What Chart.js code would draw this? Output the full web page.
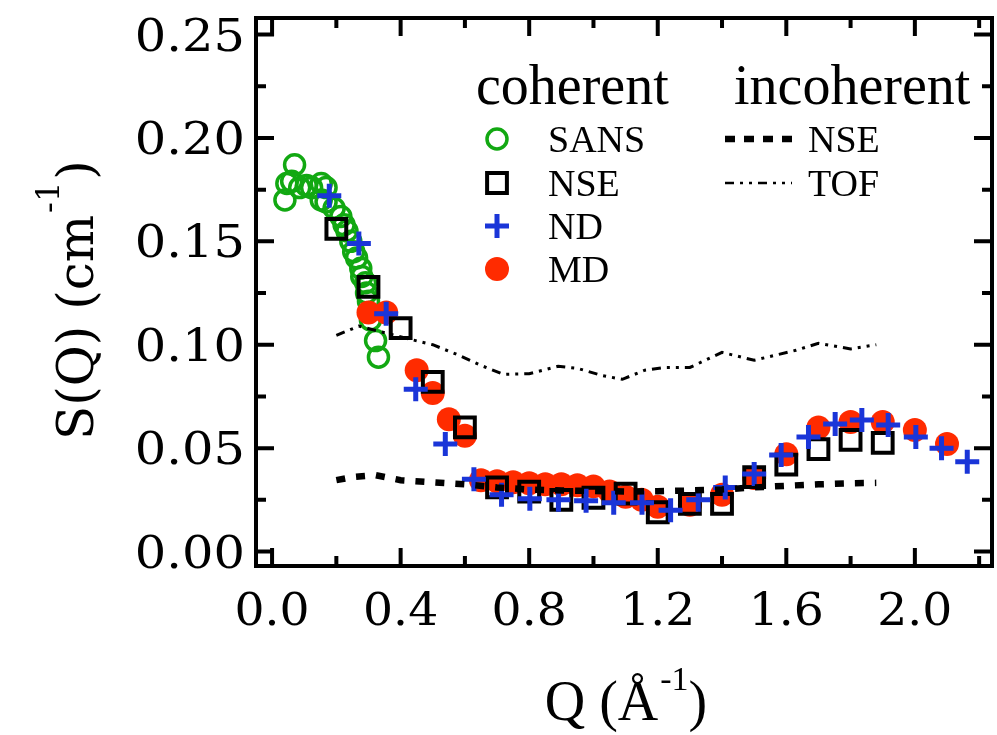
<!DOCTYPE html>
<html>
<head>
<meta charset="utf-8">
<script src="https://cdn.jsdelivr.net/npm/chart.js@4/dist/chart.umd.min.js"></script>
<style>
  html, body { margin: 0; padding: 0; background: #fff; overflow: hidden; }
  #wrap { width: 1010px; height: 735px; position: relative; }
</style>
</head>
<body>
<div id="wrap"><canvas id="sq"></canvas></div>
<script>
// coherent S(Q): SANS
const sansQ = [0.040, 0.046, 0.061, 0.070, 0.086, 0.107, 0.123, 0.153, 0.153, 0.168, 0.168, 0.193, 0.214, 0.224,
  0.233, 0.245, 0.254, 0.263, 0.276, 0.279, 0.291, 0.294, 0.300, 0.306, 0.322, 0.331];
const sansS = [0.170, 0.178, 0.179, 0.187, 0.176, 0.177, 0.176, 0.178, 0.170, 0.176, 0.169, 0.166, 0.162, 0.158,
  0.155, 0.150, 0.145, 0.142, 0.137, 0.133, 0.130, 0.125, 0.121, 0.112, 0.102, 0.094];

// coherent S(Q): NSE
const nseQ = [0.2, 0.3, 0.4, 0.5, 0.6, 0.7, 0.8, 0.9, 1.0, 1.1, 1.2, 1.3, 1.4, 1.5, 1.6, 1.7, 1.8, 1.9];
const nseS = [0.156, 0.128, 0.108, 0.082, 0.060, 0.031, 0.029, 0.025, 0.026, 0.028, 0.019, 0.023, 0.023,
  0.036, 0.042, 0.0495, 0.054, 0.0525];

// coherent S(Q): ND
const ndQ = [0.178, 0.270, 0.355, 0.447, 0.539, 0.628, 0.714, 0.802, 0.891, 0.977, 1.063, 1.151, 1.240, 1.326,
  1.410, 1.500, 1.584, 1.669, 1.752, 1.835, 1.917, 2.003, 2.083, 2.163];
const ndS = [0.172, 0.149, 0.115, 0.0785, 0.052, 0.035, 0.0275, 0.0255, 0.025, 0.0246, 0.0236, 0.0236, 0.020,
  0.025, 0.031, 0.0375, 0.0467, 0.0554, 0.0617, 0.0636, 0.0612, 0.0554, 0.050, 0.0434];

// coherent S(Q): MD
const mdQ = [0.30, 0.355, 0.45, 0.50, 0.55, 0.60, 0.65, 0.70, 0.75, 0.80, 0.85, 0.90, 0.95, 1.00, 1.05, 1.10,
  1.15, 1.20, 1.30, 1.40, 1.50, 1.60, 1.70, 1.80, 1.90, 2.00, 2.10];
const mdS = [0.1156, 0.1156, 0.0877, 0.0766, 0.064, 0.056, 0.0345, 0.034, 0.0335, 0.033, 0.0325, 0.0325, 0.032,
  0.0315, 0.029, 0.0265, 0.025, 0.0217, 0.0226, 0.0275, 0.0356, 0.047, 0.060, 0.0626, 0.0626, 0.0588, 0.052];

// incoherent S(Q): NSE and TOF
const incNseQ = [0.20, 0.25, 0.32, 0.40, 0.50, 0.60, 0.70, 0.80, 0.90, 1.00, 1.10, 1.20, 1.30, 1.40, 1.50,
  1.60, 1.70, 1.80, 1.88];
const incNseS = [0.0345, 0.036, 0.037, 0.0345, 0.0335, 0.0325, 0.031, 0.030, 0.0295, 0.0293, 0.029, 0.0292,
  0.0295, 0.030, 0.031, 0.0318, 0.0325, 0.033, 0.0332];
const tofQ = [0.20, 0.27, 0.42, 0.50, 0.58, 0.65, 0.72, 0.80, 0.89, 0.95, 1.03, 1.09, 1.16, 1.22, 1.30, 1.40,
  1.50, 1.63, 1.70, 1.80, 1.88];
const tofS = [0.1045, 0.109, 0.103, 0.100, 0.095, 0.090, 0.0857, 0.086, 0.0896, 0.0886, 0.085, 0.0833, 0.0877,
  0.089, 0.089, 0.0963, 0.0925, 0.0973, 0.1007, 0.098, 0.100];

const xTickLabels = ["0.0", "0.4", "0.8", "1.2", "1.6", "2.0"];
const yTickLabels = ["0.00", "0.05", "0.10", "0.15", "0.20", "0.25"];

const green = "#12a812";
const blue = "#1a35d8";
const red = "#ff2b00";
const serif = '"Liberation Serif", "Times New Roman", serif';
const tickFont = '"DejaVu Serif", serif';

const pairs = (qs, ss) => qs.map((q, i) => ({ x: q, y: ss[i] }));

const markers = {
  sans: { pointStyle: "circle", radius: 10, borderWidth: 3.5, color: green, fill: "rgba(0,0,0,0)" },
  nse: { pointStyle: "rect", radius: 14, borderWidth: 4, color: "#000", fill: "rgba(0,0,0,0)" },
  nd: { pointStyle: "cross", radius: 12, borderWidth: 5, color: blue, fill: "rgba(0,0,0,0)" },
  md: { pointStyle: "circle", radius: 12, borderWidth: 0, color: red, fill: red },
};

const pointSet = (label, data, m) => ({
  label,
  data,
  showLine: false,
  pointStyle: m.pointStyle,
  pointRadius: m.radius,
  pointBorderWidth: m.borderWidth,
  pointBorderColor: m.color,
  pointBackgroundColor: m.fill,
});

const lineSet = (label, data, width, dash) => ({
  label,
  data,
  showLine: true,
  borderColor: "#000",
  borderWidth: width,
  borderDash: dash,
  pointRadius: 0,
  tension: 0,
});

const nseDash = [9, 11];
const tofDash = [9, 6, 3, 6, 3, 6];

// draws text, optionally stretched horizontally about its anchor
const drawText = (ctx, text, x, y, font, align, stretch) => {
  const sx = stretch || 1;
  ctx.save();
  ctx.font = font;
  ctx.textAlign = align || "left";
  ctx.textBaseline = "alphabetic";
  ctx.translate(x, y);
  ctx.scale(sx, 1);
  ctx.fillText(text, 0, 0);
  ctx.restore();
  ctx.font = font;
  return ctx.measureText(text).width * sx;
};

const framePlugin = {
  id: "frame",
  afterDatasetsDraw(chart) {
    const { ctx, chartArea: a, scales } = chart;
    const xs = scales.x;
    const ys = scales.y;
    ctx.save();
    ctx.fillStyle = "#000";
    ctx.strokeStyle = "#000";
    ctx.setLineDash([]);

    // inward ticks on all four sides
    ctx.lineWidth = 4;
    ctx.lineCap = "butt";
    ctx.beginPath();
    for (let i = 0; i <= 11; i++) {
      const px = xs.getPixelForValue(i * 0.2);
      const len = i % 2 === 0 ? 18 : 10;
      ctx.moveTo(px, a.bottom); ctx.lineTo(px, a.bottom - len);
      ctx.moveTo(px, a.top); ctx.lineTo(px, a.top + len);
    }
    for (let i = 0; i <= 10; i++) {
      const py = ys.getPixelForValue(i * 0.025);
      const len = i % 2 === 0 ? 18 : 10;
      ctx.moveTo(a.left, py); ctx.lineTo(a.left + len, py);
      ctx.moveTo(a.right, py); ctx.lineTo(a.right - len, py);
    }
    ctx.stroke();
    ctx.strokeRect(a.left, a.top, a.right - a.left, a.bottom - a.top);

    // tick labels
    yTickLabels.forEach((t) => {
      const py = ys.getPixelForValue(parseFloat(t));
      drawText(ctx, t, a.left - 11, py + 16, `45px ${tickFont}`, "right", 1.1);
    });
    xTickLabels.forEach((t) => {
      const px = xs.getPixelForValue(parseFloat(t));
      drawText(ctx, t, px, 625, `45px ${tickFont}`, "center", 1.05);
    });

    // x title: Q (Å^-1)
    ctx.font = `56px ${serif}`;
    const wMain = ctx.measureText("Q (Å").width;
    const wClose = ctx.measureText(")").width;
    ctx.font = `34px ${serif}`;
    const wSup = ctx.measureText("-1").width;
    let xt = 625 - (wMain + wSup + wClose) / 2;
    xt += drawText(ctx, "Q (Å", xt, 720, `56px ${serif}`);
    xt += drawText(ctx, "-1", xt + 2, 690, `34px ${serif}`) + 2;
    drawText(ctx, ")", xt, 720, `56px ${serif}`);

    // y title: S(Q) (cm^-1)
    ctx.save();
    ctx.translate(93, 440);
    ctx.rotate(-Math.PI / 2);
    let yt = drawText(ctx, "S(Q) (cm", 0, 0, `50px ${tickFont}`);
    yt += drawText(ctx, "-1", yt + 2, -34, `32px ${tickFont}`) + 4;
    drawText(ctx, ")", yt, 0, `50px ${tickFont}`);
    ctx.restore();

    // legend
    drawText(ctx, "coherent", 476, 104, `56px ${serif}`);
    drawText(ctx, "incoherent", 734, 104, `56px ${serif}`);
    const rows = [
      ["SANS", markers.sans, 139],
      ["NSE", markers.nse, 183],
      ["ND", markers.nd, 226],
      ["MD", markers.md, 269],
    ];
    rows.forEach(([label, m, y]) => {
      ctx.save();
      ctx.fillStyle = m.fill;
      ctx.strokeStyle = m.color;
      ctx.lineWidth = m.borderWidth;
      Chart.helpers.drawPoint(ctx, { pointStyle: m.pointStyle, radius: m.radius, rotation: 0, borderWidth: m.borderWidth }, 497, y);
      ctx.restore();
      drawText(ctx, label, 548, y + 13, `38px ${serif}`);
    });

    const legendLine = (y, width, dash) => {
      ctx.save();
      ctx.lineWidth = width;
      ctx.setLineDash(dash);
      ctx.beginPath();
      ctx.moveTo(725, y);
      ctx.lineTo(792, y);
      ctx.stroke();
      ctx.restore();
    };
    legendLine(139, 6.5, [10, 9]);
    drawText(ctx, "NSE", 808, 152, `38px ${serif}`);
    legendLine(183, 2.5, tofDash);
    drawText(ctx, "TOF", 808, 196, `38px ${serif}`);

    ctx.restore();
  },
};

new Chart(document.getElementById("sq"), {
  type: "scatter",
  data: {
    datasets: [
      lineSet("TOF", pairs(tofQ, tofS), 3, tofDash),
      lineSet("NSE incoherent", pairs(incNseQ, incNseS), 6.5, nseDash),
      pointSet("ND", pairs(ndQ, ndS), markers.nd),
      pointSet("NSE", pairs(nseQ, nseS), markers.nse),
      pointSet("MD", pairs(mdQ, mdS), markers.md),
      pointSet("SANS", pairs(sansQ, sansS), markers.sans),
    ],
  },
  options: {
    responsive: true,
    maintainAspectRatio: false,
    animation: false,
    layout: { padding: { left: 256, right: 7, top: 17, bottom: 169 } },
    plugins: { legend: { display: false }, tooltip: { enabled: false } },
    scales: {
      x: { type: "linear", min: -0.05, max: 2.24, display: false },
      y: { type: "linear", min: -0.007, max: 0.258, display: false },
    },
  },
  plugins: [framePlugin],
});
</script>
</body>
</html>
